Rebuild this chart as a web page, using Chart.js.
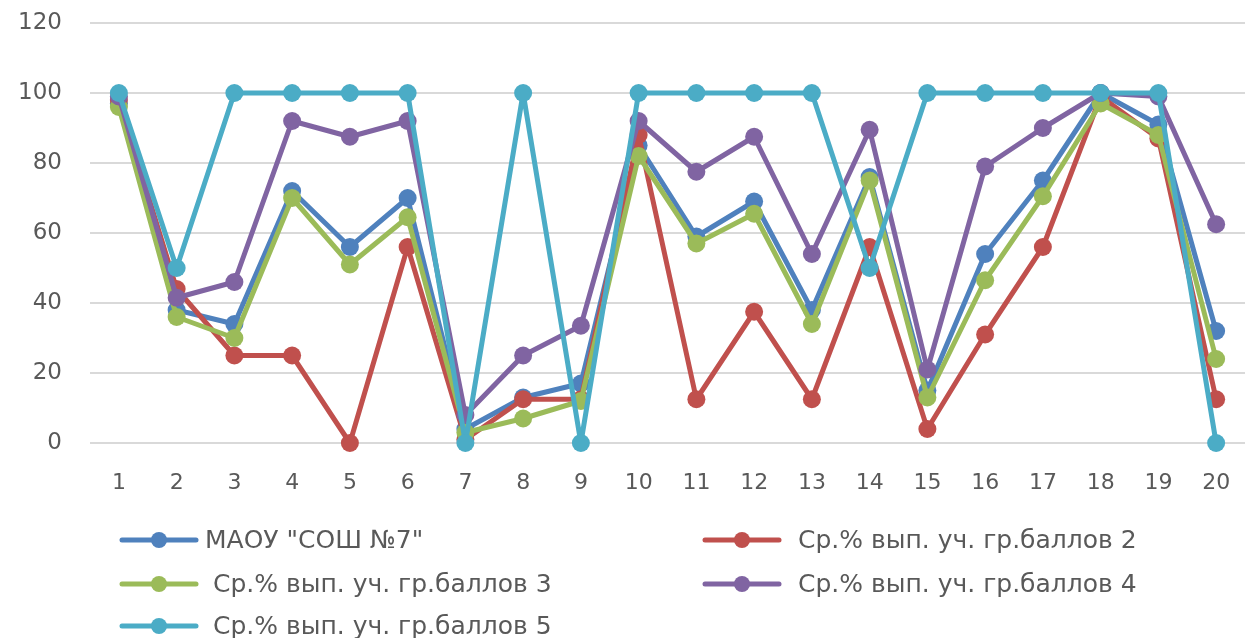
<!DOCTYPE html>
<html>
<head>
    <meta charset="utf-8">
    <title>МАОУ "СОШ №7"</title>
    <script src="https://cdn.jsdelivr.net/npm/chart.js"></script>
    <style>
        body { margin: 0; background: #fff; }
        .chart-box { width: 1245px; height: 638px; }
    </style>
</head>
<body>
    <div class="chart-box">
        <canvas id="resultsChart"></canvas>
    </div>

    <script>
        // task numbers
        const tasks = ['1','2','3','4','5','6','7','8','9','10','11','12','13','14','15','16','17','18','19','20'];

        const seriesNames = [
            'МАОУ "СОШ №7"',
            'Ср.% вып. уч. гр.баллов 2',
            ' Ср.% вып. уч. гр.баллов 3',
            'Ср.% вып. уч. гр.баллов 4',
            ' Ср.% вып. уч. гр.баллов 5'
        ];

        const school  = [97, 38, 34, 72, 56, 70, 4, 13, 17, 85, 59, 69, 38, 76, 15, 54, 75, 100, 91, 32];
        const grade2  = [98, 44, 25, 25, 0, 56, 1, 12.5, 12.5, 88, 12.5, 37.5, 12.5, 56, 4, 31, 56, 99, 87, 12.5];
        const grade3  = [96, 36, 30, 70, 51, 64.5, 3, 7, 12, 82, 57, 65.5, 34, 75, 13, 46.5, 70.5, 97, 88, 24];
        const grade4  = [99, 41.5, 46, 92, 87.5, 92, 8, 25, 33.5, 92, 77.5, 87.5, 54, 89.5, 21, 79, 90, 100, 99, 62.5];
        const grade5  = [100, 50, 100, 100, 100, 100, 0, 100, 0, 100, 100, 100, 100, 50, 100, 100, 100, 100, 100, 0];

        const yTicks = [0, 20, 40, 60, 80, 100, 120];

        const colors = ['#4F81BD', '#C0504D', '#9BBB59', '#8064A2', '#4BACC6'];
        const allSeries = [school, grade2, grade3, grade4, grade5];

        const textColor = '#595959';
        const fontFamily = '"DejaVu Sans", sans-serif';

        // legend drawn as Excel does it: short line with a marker, two columns
        const lineLegend = {
            id: 'lineLegend',
            afterDraw(chart) {
                const ctx = chart.ctx;
                const cols = [{ sym: 122, text: 205 }, { sym: 705, text: 798 }];
                const rowY = [540, 584, 626];
                const symLen = 74;
                ctx.save();
                ctx.font = '25px ' + fontFamily;
                ctx.textBaseline = 'middle';
                chart.data.datasets.forEach((ds, i) => {
                    const c = cols[i % 2];
                    const y = rowY[Math.floor(i / 2)];
                    ctx.strokeStyle = ds.borderColor;
                    ctx.lineWidth = 5;
                    ctx.lineCap = 'round';
                    ctx.beginPath();
                    ctx.moveTo(c.sym, y);
                    ctx.lineTo(c.sym + symLen, y);
                    ctx.stroke();
                    ctx.fillStyle = ds.borderColor;
                    ctx.beginPath();
                    ctx.arc(c.sym + symLen / 2, y, 8, 0, Math.PI * 2);
                    ctx.fill();
                    ctx.fillStyle = textColor;
                    ctx.fillText(ds.label, c.text, y + 1);
                });
                ctx.restore();
            }
        };

        const datasets = allSeries.map((values, i) => ({
            label: seriesNames[i],
            data: values,
            borderColor: colors[i],
            backgroundColor: colors[i],
            pointBackgroundColor: colors[i],
            pointBorderWidth: 0,
            pointRadius: 9,
            borderWidth: 5,
            borderJoinStyle: 'round',
            borderCapStyle: 'round',
            tension: 0,
            clip: false,
            order: allSeries.length - i   // later series on top, like Excel
        }));

        new Chart(document.getElementById('resultsChart'), {
            type: 'line',
            data: { labels: tasks, datasets: datasets },
            options: {
                responsive: true,
                maintainAspectRatio: false,
                animation: false,
                layout: { autoPadding: false, padding: { top: 23, right: 0, bottom: 135, left: 0 } },
                plugins: {
                    legend: { display: false },
                    tooltip: { enabled: false }
                },
                scales: {
                    x: {
                        offset: true,
                        grid: { display: false, drawTicks: false },
                        border: { display: false },
                        ticks: {
                            color: textColor,
                            font: { family: fontFamily, size: 22 },
                            padding: 27,
                            maxRotation: 0,
                            autoSkip: false
                        },
                        afterFit(scale) {
                            scale.height = 60;
                            scale.paddingLeft = 0;
                            scale.paddingRight = 0;
                        }
                    },
                    y: {
                        min: 0,
                        max: 120,
                        afterBuildTicks(scale) {
                            scale.ticks = yTicks.map(v => ({ value: v }));
                        },
                        grid: { color: '#D9D9D9', lineWidth: 2, drawTicks: false },
                        border: { display: false },
                        ticks: {
                            color: textColor,
                            font: { family: fontFamily, size: 23 },
                            padding: 28
                        },
                        afterFit(scale) {
                            scale.width = 90;
                            scale.paddingTop = 0;
                            scale.paddingBottom = 0;
                        }
                    }
                }
            },
            plugins: [lineLegend]
        });
    </script>
</body>
</html>
